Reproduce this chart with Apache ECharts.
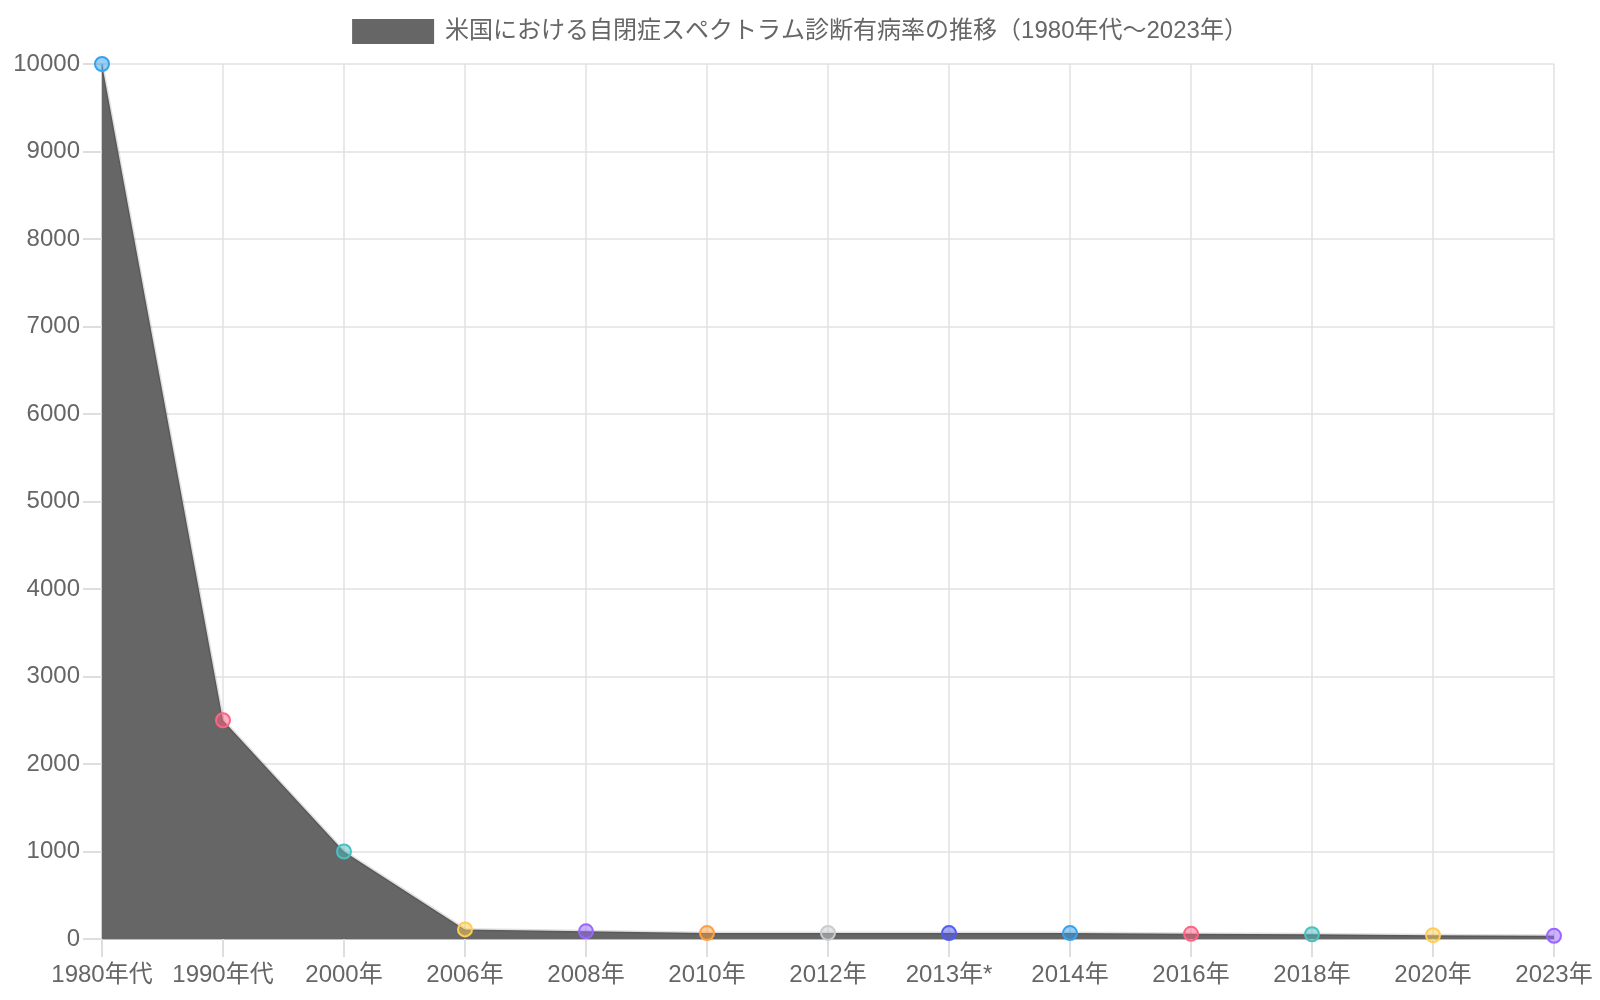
<!DOCTYPE html>
<html>
<head>
<meta charset="utf-8">
<script src="https://cdn.jsdelivr.net/npm/echarts@6/dist/echarts.min.js"></script>
<style>html,body{margin:0;padding:0;background:#fff}#c{width:1600px;height:1000px}</style>
</head>
<body>
<div id="c"></div>
<script>
const categories = ['1980年代','1990年代','2000年','2006年','2008年','2010年','2012年','2013年*','2014年','2016年','2018年','2020年','2023年'];
const values = [10000, 2500, 1000, 110, 88, 68, 69, 68, 68, 59, 54, 44, 36];
const pointColors = [
  [54,162,235],[255,99,132],[75,192,192],[255,205,86],[153,102,255],[255,159,64],
  [201,203,207],[80,92,245],[54,162,235],[255,99,132],[75,192,192],[255,205,86],[153,102,255]
];
const seriesName = '米国における自閉症スペクトラム診断有病率の推移（1980年代～2023年）';
const yTicks = {min: 0, max: 10000, interval: 1000};

const FONT = "'Liberation Sans', 'Noto Sans CJK JP', sans-serif";
const chart = echarts.init(document.getElementById('c'));
const data = values.map((v, i) => {
  const c = pointColors[i];
  return {
    value: v,
    itemStyle: {
      color: `rgba(${c[0]},${c[1]},${c[2]},0.5)`,
      borderColor: `rgb(${c[0]},${c[1]},${c[2]})`,
      borderWidth: 2
    }
  };
});
chart.setOption({
  animation: false,
  textStyle: {fontFamily: FONT},
  legend: {
    top: 19,
    padding: 0,
    left: 'center',
    itemWidth: 82,
    itemHeight: 25,
    itemGap: 10,
    icon: 'rect',
    textStyle: {color: '#666', fontSize: 24, fontFamily: FONT, padding: [0, 0, 0, 6]},
    itemStyle: {color: '#666', borderWidth: 0},
    data: [seriesName]
  },
  grid: {left: 102, right: 46, top: 64, bottom: 61, containLabel: false},
  xAxis: {
    type: 'category',
    data: categories,
    boundaryGap: false,
    axisLine: {show: true, lineStyle: {color: '#bdbdbd', width: 2}},
    axisTick: {show: true, length: 18, interval: 0, lineStyle: {color: '#dedede', width: 2}},
    axisLabel: {color: '#666', fontSize: 24, margin: 24, interval: 0, fontFamily: FONT},
    splitLine: {show: true, interval: 0, lineStyle: {color: '#e2e2e2', width: 1.5}}
  },
  yAxis: {
    type: 'value',
    min: yTicks.min,
    max: yTicks.max,
    interval: yTicks.interval,
    axisLine: {show: true, lineStyle: {color: '#cfcfcf', width: 2}},
    axisTick: {show: true, length: 19, lineStyle: {color: '#dedede', width: 2}},
    axisLabel: {color: '#666', fontSize: 24, margin: 22, fontFamily: FONT, formatter: v => String(v)},
    splitLine: {show: true, lineStyle: {color: '#e2e2e2', width: 1.5}}
  },
  series: [{
    name: seriesName,
    type: 'line',
    data: data,
    symbol: 'circle',
    symbolSize: 14,
    showSymbol: true,
    itemStyle: {color: '#666'},
    lineStyle: {color: 'rgba(0,0,0,0.12)', width: 3},
    areaStyle: {color: '#666666', opacity: 1},
    z: 3
  }]
});
</script>
</body>
</html>
